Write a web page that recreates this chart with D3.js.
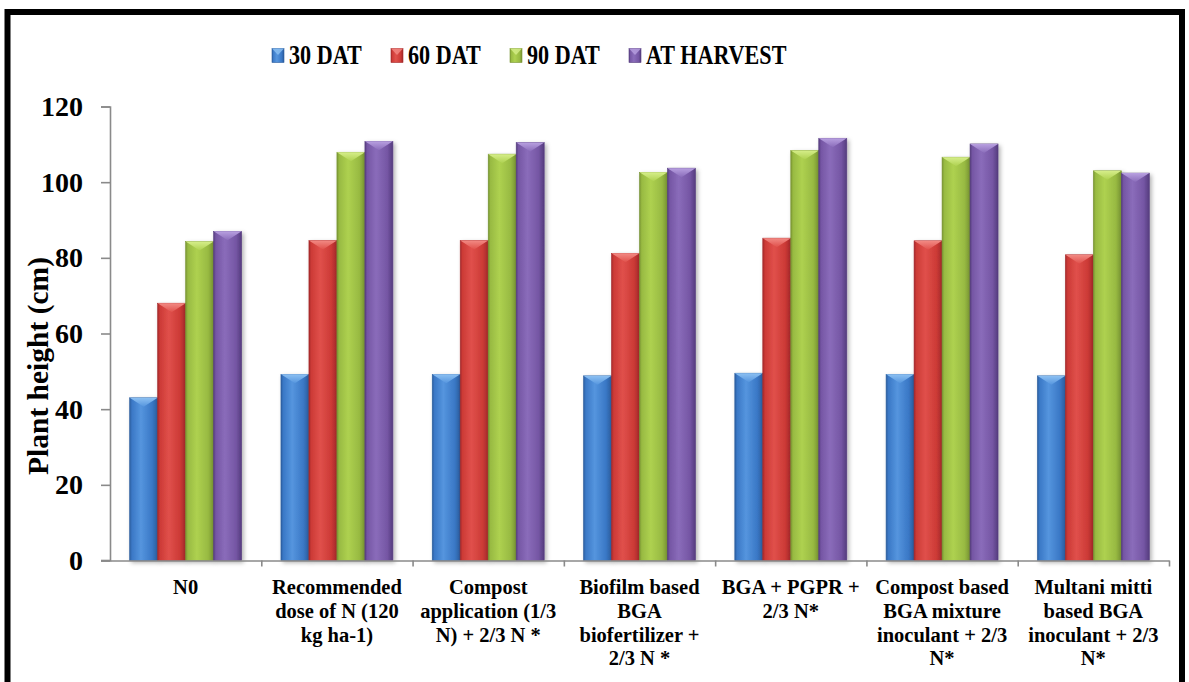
<!DOCTYPE html>
<html>
<head>
<meta charset="utf-8">
<script src="https://cdn.jsdelivr.net/npm/d3@7"></script>
<style>
  html, body { margin: 0; padding: 0; background: #fff; }
  svg { display: block; }
</style>
</head>
<body>
<svg id="chart" width="1189" height="682"></svg>
<script>
// Treatments (category labels, one entry per line)
const categories = [
  ["N0"],
  ["Recommended", "dose of N (120", "kg ha-1)"],
  ["Compost", "application (1/3", "N) + 2/3 N *"],
  ["Biofilm based", "BGA", "biofertilizer +", "2/3 N *"],
  ["BGA + PGPR +", "2/3 N*"],
  ["Compost based", "BGA mixture", "inoculant + 2/3", "N*"],
  ["Multani mitti", "based BGA", "inoculant + 2/3", "N*"]
];

const seriesNames = ["30 DAT", "60 DAT", "90 DAT", "AT HARVEST"];

// Plant height (cm) at each stage
const dat30   = [43.0, 49.2, 49.2, 48.8, 49.5, 49.2, 48.8];
const dat60   = [68.0, 84.6, 84.6, 81.2, 85.2, 84.5, 80.8];
const dat90   = [84.3, 107.9, 107.4, 102.6, 108.4, 106.6, 103.0];
const harvest = [87.0, 110.8, 110.5, 103.7, 111.6, 110.1, 102.4];

const yTicks = [0, 20, 40, 60, 80, 100, 120];

const seriesValues = [dat30, dat60, dat90, harvest];

const FONT = '"Liberation Serif", "Times New Roman", Times, serif';

// Shading for each series: [dark edge, base, highlight, bevel top]
const palette = [
  ["#2b5d9e", "#3a78c6", "#5595de", "#8cc0f2"],
  ["#a4282a", "#cc3a36", "#e0504b", "#f28a84"],
  ["#789432", "#98ba42", "#aed150", "#d6ee8a"],
  ["#553c7e", "#7556a4", "#8a6cba", "#b8a0e0"]
];

const svg = d3.select("#chart");
const defs = svg.append("defs");

function styleText(sel, size) {
  return sel.style("font-family", FONT).style("font-weight", "bold")
    .style("font-size", size + "px").style("fill", "#000");
}

// Horizontal shading that gives bars a rounded look
palette.forEach((c, i) => {
  const g = defs.append("linearGradient").attr("id", "bar" + i)
    .attr("x1", "0").attr("x2", "1").attr("y1", "0").attr("y2", "0");
  g.append("stop").attr("offset", "0").attr("stop-color", c[0]);
  g.append("stop").attr("offset", "0.08").attr("stop-color", c[1]);
  g.append("stop").attr("offset", "0.4").attr("stop-color", c[2]);
  g.append("stop").attr("offset", "0.8").attr("stop-color", c[1]);
  g.append("stop").attr("offset", "1").attr("stop-color", c[0]);

  const t = defs.append("linearGradient").attr("id", "top" + i)
    .attr("x1", "0").attr("x2", "0").attr("y1", "0").attr("y2", "1");
  t.append("stop").attr("offset", "0").attr("stop-color", c[3]);
  t.append("stop").attr("offset", "1").attr("stop-color", c[2]);
});

const shadow = defs.append("filter").attr("id", "shadow")
  .attr("x", "-20%").attr("y", "-5%").attr("width", "150%").attr("height", "115%");
shadow.append("feDropShadow").attr("dx", 2).attr("dy", 2)
  .attr("stdDeviation", 2).attr("flood-color", "#000").attr("flood-opacity", 0.3);

// Frame around the figure
svg.append("rect")
  .attr("x", 7.5).attr("y", 12).attr("width", 1174.5).attr("height", 700)
  .attr("fill", "#fff").attr("stroke", "#000").attr("stroke-width", 6);

// Scales
const plotLeft = 110, plotRight = 1169, plotTop = 106.5, plotBottom = 560.5;

const x0 = d3.scaleBand()
  .domain(d3.range(categories.length))
  .range([plotLeft, plotRight])
  .paddingInner(0.26)
  .paddingOuter(0.13);

const x1 = d3.scaleBand()
  .domain(d3.range(seriesNames.length))
  .range([0, x0.bandwidth()])
  .padding(0);

const y = d3.scaleLinear().domain([0, 120]).range([plotBottom, plotTop]);

// Bars
const bevel = 9;
const groups = svg.append("g").selectAll("g")
  .data(categories.map((c, i) => i))
  .join("g")
  .attr("transform", i => `translate(${x0(i)},0)`);

groups.each(function (ci) {
  const g = d3.select(this);
  seriesValues.forEach((vals, si) => {
    const bx = x1(si), bw = x1.bandwidth();
    const top = y(vals[ci]);
    const bar = g.append("g").attr("filter", "url(#shadow)");
    bar.append("rect")
      .attr("x", bx).attr("y", top)
      .attr("width", bw).attr("height", plotBottom - top)
      .attr("fill", `url(#bar${si})`)
      .attr("stroke", palette[si][0]).attr("stroke-width", 0.6);
    bar.append("path")
      .attr("d", `M${bx},${top} L${bx + bw},${top} L${bx + bw / 2},${top + bevel} Z`)
      .attr("fill", `url(#top${si})`);
  });
});

// Axes
const axisColor = "#8a8a8a";
const yAxis = d3.axisLeft(y).tickValues(yTicks).tickSize(9).tickPadding(18);
const yG = svg.append("g").attr("transform", `translate(${plotLeft},0)`).call(yAxis);
yG.select(".domain").attr("stroke", axisColor).attr("stroke-width", 1.6);
yG.selectAll(".tick line").attr("stroke", axisColor).attr("stroke-width", 1.6);
styleText(yG.selectAll(".tick text"), 28);

const xScaleLine = d3.scaleLinear().domain([0, categories.length]).range([plotLeft, plotRight]);
const xAxis = d3.axisBottom(xScaleLine).tickValues(d3.range(1, categories.length + 1))
  .tickSize(6).tickFormat("").tickSizeOuter(0);
const xG = svg.append("g").attr("transform", `translate(0,${plotBottom})`).call(xAxis);
xG.select(".domain").attr("stroke", axisColor).attr("stroke-width", 1.6);
xG.selectAll(".tick line").attr("stroke", axisColor).attr("stroke-width", 1.6);
svg.append("line")
  .attr("x1", plotLeft - 9).attr("x2", plotLeft)
  .attr("y1", plotBottom).attr("y2", plotBottom)
  .attr("stroke", axisColor).attr("stroke-width", 1.6);

// Category labels
const labelG = svg.append("g");
categories.forEach((lines, i) => {
  const cx = x0(i) + x0.bandwidth() / 2;
  const t = styleText(labelG.append("text").attr("text-anchor", "middle"), 20.5);
  lines.forEach((ln, k) => {
    t.append("tspan").attr("x", cx).attr("y", 594 + k * 23.8).text(ln);
  });
});

// Y axis title
styleText(svg.append("text")
  .attr("transform", "translate(48,366) rotate(-90)")
  .attr("text-anchor", "middle"), 29.5)
  .text("Plant height (cm)");

// Legend
const legend = svg.append("g");
const legendStart = 272, legendStep = 119;
seriesNames.forEach((name, i) => {
  const lx = legendStart + i * legendStep;
  legend.append("rect")
    .attr("x", lx).attr("y", 48.5).attr("width", 12).attr("height", 14)
    .attr("fill", `url(#bar${i})`)
    .attr("stroke", palette[i][0]).attr("stroke-width", 0.6);
  legend.append("path")
    .attr("d", `M${lx},${48.5} L${lx + 12},${48.5} L${lx + 6},${55} Z`)
    .attr("fill", palette[i][3]).attr("opacity", 0.8);
  styleText(legend.append("text")
    .attr("transform", `translate(${lx + 17},64) scale(0.82,1)`), 27)
    .text(name);
});
</script>
</body>
</html>
